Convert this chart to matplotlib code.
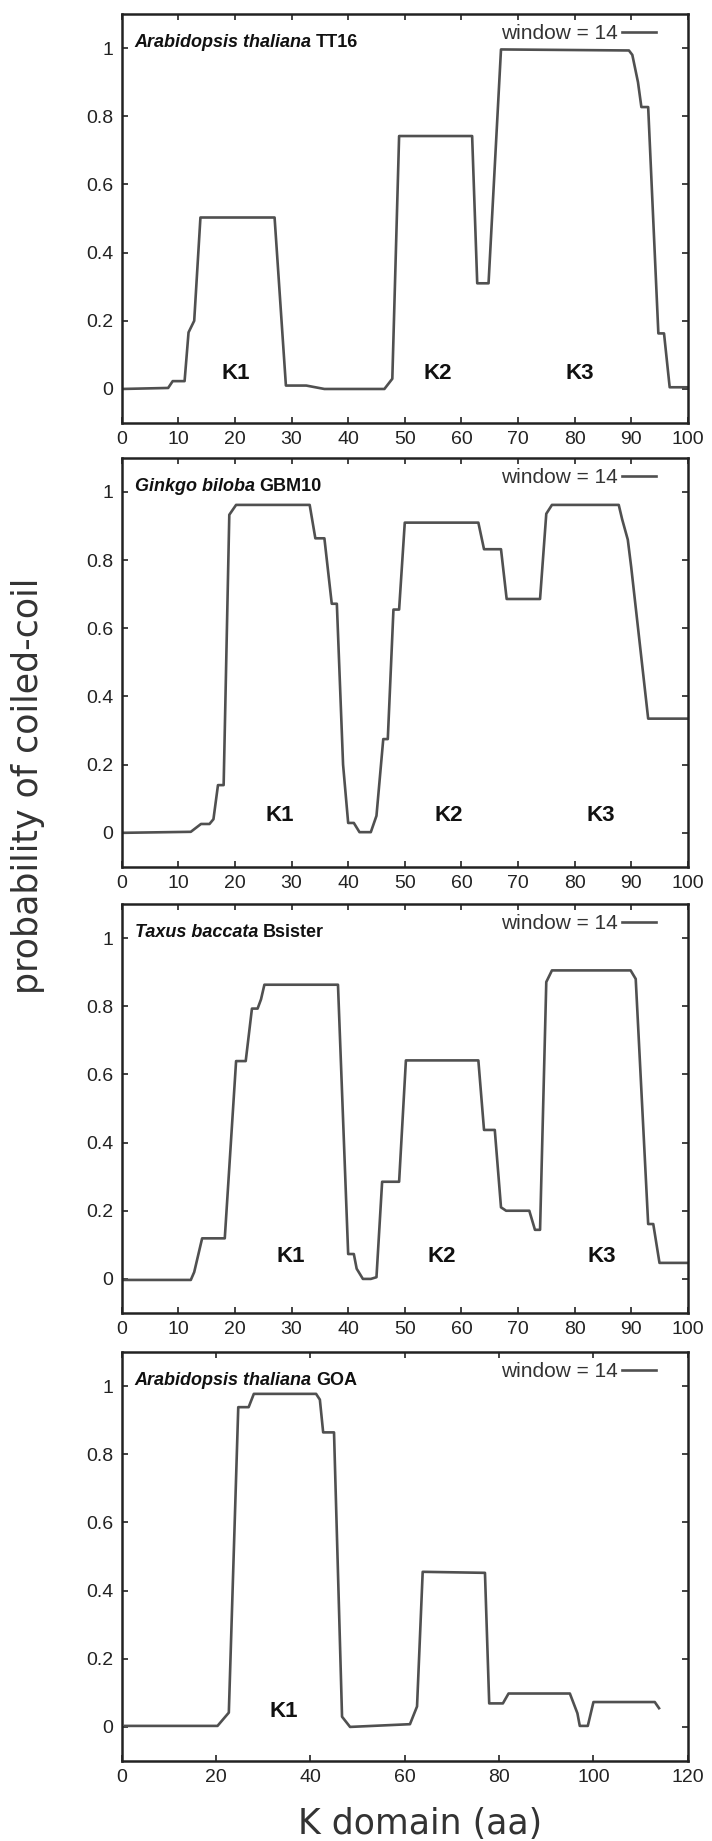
import matplotlib
matplotlib.use("Agg")
import matplotlib.pyplot as plt

# panel labels
species = ["Arabidopsis thaliana", "Ginkgo biloba", "Taxus baccata", "Arabidopsis thaliana"]
genes = ["TT16", "GBM10", "Bsister", "GOA"]

# coiled-coil probability traces
x1 = [0, 8.2, 9, 11.1, 11.8, 12.8, 13.9, 27, 29, 32.6, 35.8, 46.4, 47.8, 49, 61.9, 62.8,
      64.8, 67, 89.6, 90.2, 91.2, 91.8, 93, 94.8, 95.8, 96.8, 100]
y1 = [0, 0.003, 0.023, 0.023, 0.166, 0.2, 0.503, 0.503, 0.01, 0.01, 0, 0, 0.03, 0.742,
      0.742, 0.31, 0.31, 0.996, 0.993, 0.98, 0.9, 0.827, 0.827, 0.163, 0.163, 0.005, 0.005]

x2 = [0, 12.2, 14, 15.5, 16.2, 17, 18, 19, 20.2, 33.2, 34.2, 35.8, 37.1, 38, 39.1, 40, 41,
      42, 44, 45, 46.2, 47, 48, 49, 50, 63, 64, 67, 68, 73.9, 75, 76, 87.8, 88.4, 89.4, 90,
      93, 100]
y2 = [0, 0.003, 0.026, 0.026, 0.04, 0.14, 0.14, 0.933, 0.962, 0.962, 0.864, 0.864, 0.672,
      0.672, 0.2, 0.029, 0.029, 0.002, 0.002, 0.05, 0.275, 0.275, 0.655, 0.655, 0.91, 0.91,
      0.832, 0.832, 0.686, 0.686, 0.936, 0.962, 0.962, 0.92, 0.86, 0.78, 0.335, 0.335]

x3 = [0, 12.2, 12.8, 14.2, 18.2, 20.2, 21.9, 23, 24, 24.6, 25.2, 38.2, 40, 41, 41.5, 42.6,
      44, 45, 46, 49, 50.2, 63, 64, 65.9, 67, 67.9, 72, 73, 73.9, 75, 76, 89.9, 90.8, 93,
      93.9, 95, 100]
y3 = [-0.003, -0.003, 0.02, 0.119, 0.119, 0.639, 0.639, 0.793, 0.793, 0.82, 0.863, 0.863,
      0.073, 0.073, 0.03, 0.0, 0.0, 0.005, 0.285, 0.285, 0.641, 0.641, 0.437, 0.437, 0.21,
      0.2, 0.2, 0.144, 0.144, 0.871, 0.905, 0.905, 0.88, 0.161, 0.161, 0.047, 0.047]

x4 = [0.7, 20.3, 22.7, 24.7, 26.9, 28, 41.2, 42, 42.7, 45, 46.7, 48.4, 61.1, 62.6, 63.8, 77,
      77.9, 80.8, 82, 95, 96.6, 97.1, 98.8, 100, 113, 113.9]
y4 = [0.003, 0.003, 0.042, 0.938, 0.938, 0.977, 0.977, 0.96, 0.864, 0.864, 0.03, 0.0,
      0.008, 0.06, 0.455, 0.452, 0.069, 0.069, 0.098, 0.098, 0.04, 0.003, 0.003, 0.073,
      0.073, 0.055]

xs = [x1, x2, x3, x4]
ys = [y1, y2, y3, y4]
xmax = [100, 100, 100, 120]
xstep = [10, 10, 10, 20]

# K domain labels: (x, y) in data units
k_names = [["K1", "K2", "K3"], ["K1", "K2", "K3"], ["K1", "K2", "K3"], ["K1"]]
k_x = [[20.2, 55.8, 81], [28, 57.8, 84.6], [29.8, 56.6, 84.8], [34.3]]
k_y = [0.045, 0.05, 0.065, 0.045]

yticks = [0, 0.2, 0.4, 0.6, 0.8, 1]
ytick_labels = ["0", "0.2", "0.4", "0.6", "0.8", "1"]

plt.rcParams['font.family'] = ['Liberation Sans', 'DejaVu Sans']

fig = plt.figure(figsize=(7.12, 18.41), dpi=100)
bottoms = [0.7702, 0.5291, 0.2868, 0.04345]
left, width, height = 0.171, 0.795, 0.2222

line_col = '#505050'

for i in range(4):
    ax = fig.add_axes([left, bottoms[i], width, height])
    ax.plot(xs[i], ys[i], color=line_col, lw=1.9)
    ax.set_xlim(0, xmax[i])
    ax.set_ylim(-0.1, 1.1)
    ax.set_xticks(list(range(0, xmax[i] + 1, xstep[i])))
    ax.set_yticks(yticks)
    ax.set_yticklabels(ytick_labels)
    ax.tick_params(direction='in', length=4, width=1.2, top=True, right=True,
                   labelsize=14, pad=6, colors='#222222')
    for s in ax.spines.values():
        s.set_linewidth(1.8)
        s.set_color('#222222')

    t1 = ax.text(0.023, 0.93, species[i], transform=ax.transAxes, fontsize=13,
                 fontweight='bold', fontstyle='italic', va='center', ha='left', color='#111111')
    ax.annotate(genes[i], xy=(1, 0), xycoords=t1, xytext=(3, 0), textcoords='offset points',
                fontsize=13, fontweight='bold', va='bottom', ha='left', color='#111111')

    ax.text(0.877, 0.953, "window = 14", transform=ax.transAxes, fontsize=15,
            va='center', ha='right', color='#333333')
    ax.plot([0.883, 0.943], [0.955, 0.955], transform=ax.transAxes, color=line_col, lw=1.9)

    for name, kx in zip(k_names[i], k_x[i]):
        ax.text(kx, k_y[i], name, fontsize=16, fontweight='bold', ha='center',
                va='center', color='#111111')

fig.text(0.04, 0.573, "probability of coiled-coil", rotation=90, ha='center', va='center',
         fontsize=25, family='DejaVu Sans', color='#333333')
fig.text(0.59, 0.009, "K domain (aa)", ha='center', va='center', fontsize=25,
         family='DejaVu Sans', color='#333333')

fig.savefig("out.png", dpi=100)
